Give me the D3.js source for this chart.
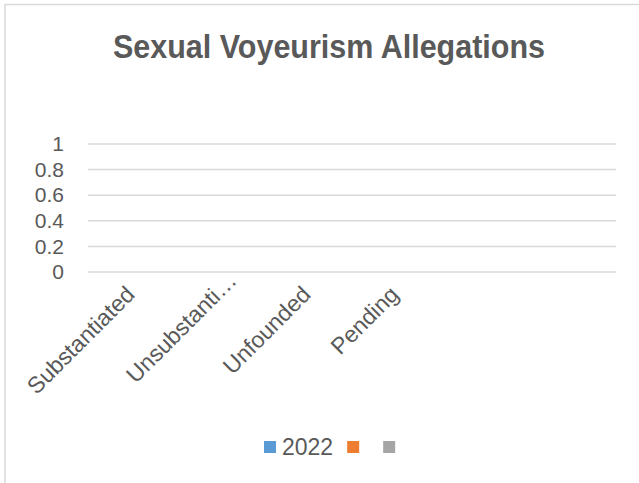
<!DOCTYPE html>
<html>
<head>
<meta charset="utf-8">
<script src="https://cdn.jsdelivr.net/npm/d3@7"></script>
<style>
  body { margin: 0; background: #fff; }
  svg { display: block; font-family: "Liberation Sans", Arial, sans-serif; }
</style>
</head>
<body>
<svg id="chart" width="639" height="483"></svg>
<script>
// chart data (all series empty in the source)
const categories = ["Substantiated", "Unsubstanti…", "Unfounded", "Pending", "", ""]
const series_names = ["2022", "", ""]
const series_colors = ["#5b9bd5", "#ed7d31", "#a5a5a5"]
const values_2022 = [0, 0, 0, 0, 0, 0]
const y_ticks = [0, 0.2, 0.4, 0.6, 0.8, 1]

const svg = d3.select("#chart")
const text_color = "#595959"

// frame (only left + top visible in the crop)
svg.append("line").attr("x1", 5).attr("x2", 5).attr("y1", 4).attr("y2", 483)
    .attr("stroke", "#d9d9d9").attr("stroke-width", 1.5)
svg.append("line").attr("x1", 5).attr("x2", 639).attr("y1", 4.5).attr("y2", 4.5)
    .attr("stroke", "#d9d9d9").attr("stroke-width", 1.5)

svg.append("text")
    .attr("x", 113).attr("y", 58)
    .attr("textLength", 432).attr("lengthAdjust", "spacingAndGlyphs")
    .attr("font-size", 34).attr("font-weight", "bold")
    .attr("fill", text_color)
    .text("Sexual Voyeurism Allegations")

const x = d3.scaleBand().domain(d3.range(categories.length)).range([88, 616])
const y = d3.scaleLinear().domain([0, 1]).range([272, 144])

// gridlines
svg.append("g").selectAll("line").data(y_ticks).join("line")
    .attr("x1", 88).attr("x2", 616)
    .attr("y1", d => y(d)).attr("y2", d => y(d))
    .attr("stroke", "#d9d9d9").attr("stroke-width", 1.5)

const yAxis = svg.append("g").attr("transform", "translate(88,0)")
    .call(d3.axisLeft(y).tickValues(y_ticks).tickFormat(d3.format("~g")).tickSize(0).tickPadding(24))
yAxis.select(".domain").remove()
yAxis.selectAll("text").attr("font-size", 21).attr("fill", text_color)
    .attr("font-family", "Liberation Sans, Arial, sans-serif")

// bars (all zero)
svg.append("g").selectAll("rect").data(values_2022).join("rect")
    .attr("x", (d, i) => x(i) + x.bandwidth() * 0.2)
    .attr("width", x.bandwidth() * 0.2)
    .attr("y", d => y(d)).attr("height", d => y(0) - y(d))
    .attr("fill", series_colors[0])

// category labels rotated; truncated label sits a bit further along
svg.append("g").selectAll("text").data(categories).join("text")
    .attr("transform", (d, i) => {
        const shift = d.endsWith("…") ? 14 : 0
        return `translate(${x(i) + x.bandwidth() / 2 + 4 + shift},${296 - shift}) rotate(-45)`
    })
    .attr("text-anchor", "end")
    .attr("font-size", 23).attr("fill", text_color)
    .text(d => d)

// legend
const legend = svg.append("g")
let lx = 264
series_names.forEach((name, i) => {
    legend.append("rect").attr("x", lx).attr("y", 441).attr("width", 12).attr("height", 12)
        .attr("fill", series_colors[i])
    lx += 18
    if (name) {
        const t = legend.append("text").attr("x", lx).attr("y", 455)
            .attr("font-size", 23).attr("fill", text_color).text(name)
        lx += t.node().getComputedTextLength() + 14
    } else {
        lx += 18
    }
})
</script>
</body>
</html>
